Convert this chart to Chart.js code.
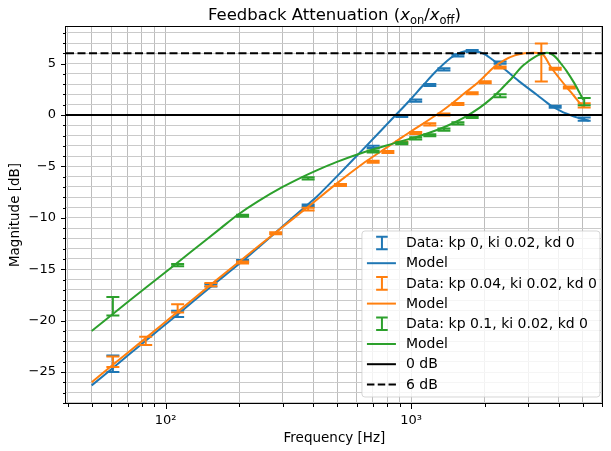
<!DOCTYPE html>
<html>
<head>
<meta charset="utf-8">
<script src="https://cdn.jsdelivr.net/npm/chart.js@4.4.1/dist/chart.umd.min.js"></script>
<style>
  html, body { margin: 0; padding: 0; background: #fff; }
  #wrap { width: 611px; height: 451px; }
</style>
</head>
<body>
<div id="wrap"><canvas id="atten_chart" width="611" height="451"></canvas></div>
<script>
// measured points (Hz, dB, +/- dB)
var blueFreq = [61, 112, 153, 206, 381, 701, 917, 1045, 1193, 1362, 1553, 1775, 2307, 3868, 5077];
var blueMag  = [-24.2, -19.35, -16.55, -14.2, -8.8, -3.1, -0.1, 1.4, 2.92, 4.44, 5.8, 6.22, 5.1, 0.81, -0.4];
var blueErr  = [0.8, 0.3, 0.12, 0.1, 0.1, 0.1, 0.1, 0.1, 0.1, 0.1, 0.1, 0.1, 0.1, 0.1, 0.15];

var orangeFreq = [61, 83, 112, 153, 206, 281, 381, 516, 701, 805, 917, 1045, 1193, 1362, 1553, 1775, 2006, 2307, 3396, 3868, 4417, 5077];
var orangeMag  = [-24.0, -21.97, -18.8, -16.5, -14.35, -11.5, -9.15, -6.81, -4.54, -3.6, -2.68, -1.75, -0.91, 0.06, 1.07, 2.11, 3.18, 4.62, 5.1, 4.5, 2.68, 0.94];
var orangeErr  = [0.5, 0.4, 0.4, 0.15, 0.1, 0.1, 0.13, 0.1, 0.1, 0.1, 0.1, 0.1, 0.1, 0.1, 0.1, 0.1, 0.1, 0.1, 1.85, 0.1, 0.1, 0.2];

var greenFreq = [61, 112, 206, 381, 701, 917, 1045, 1193, 1362, 1553, 1775, 2307, 5077];
var greenMag  = [-18.6, -14.6, -9.8, -6.16, -3.55, -2.74, -2.27, -1.97, -1.42, -0.81, -0.2, 1.88, 1.3];
var greenErr  = [0.9, 0.1, 0.1, 0.1, 0.1, 0.1, 0.1, 0.1, 0.1, 0.1, 0.1, 0.15, 0.35];

// model curves
var blueModelFreq = [50, 61, 83, 112, 153, 206, 280, 380, 413, 514, 652, 859, 985, 1123, 1276, 1450, 1560, 1660, 1750, 1850, 2000, 2170, 2450, 2750, 3265, 3700, 4100, 4450, 4770, 5300];
var blueModel     = [-26.3, -24.6, -21.95, -19.4, -16.7, -14.2, -11.45, -8.7, -7.95, -5.65, -3.1, -0.1, 1.39, 2.92, 4.35, 5.55, 6.0, 6.2, 6.25, 6.2, 5.9, 5.3, 4.3, 3.3, 1.95, 0.95, 0.35, 0.0, -0.25, -0.55];

var orangeModelFreq = [50, 61, 83, 112, 153, 206, 280, 380, 496, 652, 748, 851, 970, 1100, 1276, 1460, 1650, 1880, 2170, 2400, 2650, 2900, 3150, 3369, 3500, 3694, 4000, 4309, 4600, 4878, 5050];
var orangeModel     = [-26.0, -24.3, -21.7, -19.15, -16.5, -14.0, -11.45, -8.95, -6.7, -4.55, -3.6, -2.7, -1.8, -0.95, 0.05, 1.07, 2.11, 3.18, 4.62, 5.35, 5.8, 6.0, 6.05, 6.0, 5.7, 4.75, 3.65, 2.7, 1.9, 1.15, 0.75];

var greenModelFreq = [50, 61, 83, 106, 127, 168, 197, 237, 300, 360, 413, 496, 652, 851, 970, 1100, 1276, 1460, 1650, 1900, 2170, 2325, 2600, 2800, 3000, 3166, 3300, 3450, 3580, 3700, 3810, 3930, 4100, 4300, 4600, 4878, 5029];
var greenModel     = [-21.0, -19.35, -16.8, -14.8, -13.3, -11.0, -9.7, -8.42, -7.0, -6.04, -5.38, -4.58, -3.57, -2.76, -2.37, -1.99, -1.46, -0.87, -0.23, 0.69, 1.79, 2.5, 3.7, 4.6, 5.2, 5.58, 5.82, 5.98, 6.05, 5.98, 5.8, 5.5, 4.95, 4.3, 3.2, 2.1, 1.5];

var refLevels = [0, 6];

var xTickVals = [40, 50, 60, 70, 80, 90, 100, 200, 300, 400, 500, 600, 700, 800, 900, 1000, 2000, 3000, 4000, 5000, 6000];
var xMajorVals = [100, 1000];
var xMajorText = ['10\u00b2', '10\u00b3'];
var yTickVals = [-28, -27, -26, -25, -24, -23, -22, -21, -20, -19, -18, -17, -16, -15, -14, -13, -12, -11, -10, -9, -8, -7, -6, -5, -4, -3, -2, -1, 0, 1, 2, 3, 4, 5, 6, 7, 8];
var yLabelVals = [-25, -20, -15, -10, -5, 0, 5];

var legendLabels = ['Data: kp 0, ki 0.02, kd 0', 'Model', 'Data: kp 0.04, ki 0.02, kd 0', 'Model',
                    'Data: kp 0.1, ki 0.02, kd 0', 'Model', '0 dB', '6 dB'];

var X_MIN = 39.3, X_MAX = 6053;
var BLUE = '#1f77b4', ORANGE = '#ff7f0e', GREEN = '#2ca02c';
var FONT = "'DejaVu Sans'";

function pts(xs, ys) {
  return xs.map(function(x, i){ return {x: x, y: ys[i]}; });
}

function errSet(label, color, xs, ys, errs, order) {
  return { label: label, data: pts(xs, ys), errors: errs, borderColor: color, backgroundColor: color,
           showLine: false, pointRadius: 0, order: order };
}

function modelSet(color, xs, ys, order) {
  return { label: 'Model', data: pts(xs, ys), borderColor: color, borderWidth: 2, pointRadius: 0,
           fill: false, tension: 0.3, order: order };
}

var errorBarPlugin = {
  id: 'errorBars',
  afterDatasetDraw: function(chart, args) {
    var ds = chart.data.datasets[args.index];
    if (!ds.errors) return;
    var ctx = chart.ctx, xs = chart.scales.x, ys = chart.scales.y, cap = 6.5;
    var a = chart.chartArea;
    ctx.save();
    ctx.beginPath();
    ctx.rect(a.left, a.top, a.right - a.left, a.bottom - a.top);
    ctx.clip();
    ctx.strokeStyle = ds.borderColor;
    ctx.lineWidth = 2;
    ds.data.forEach(function(p, i) {
      var px = xs.getPixelForValue(p.x);
      var top = ys.getPixelForValue(p.y + ds.errors[i]);
      var bot = ys.getPixelForValue(p.y - ds.errors[i]);
      ctx.beginPath();
      ctx.moveTo(px, top); ctx.lineTo(px, bot);
      ctx.moveTo(px - cap, top); ctx.lineTo(px + cap, top);
      ctx.moveTo(px - cap, bot); ctx.lineTo(px + cap, bot);
      ctx.stroke();
    });
    ctx.restore();
  }
};

var framePlugin = {
  id: 'axesFrame',
  afterDraw: function(chart) {
    var ctx = chart.ctx, a = chart.chartArea, xs = chart.scales.x, ys = chart.scales.y;
    ctx.save();
    ctx.strokeStyle = '#000';
    ctx.lineWidth = 1;
    ctx.strokeRect(Math.round(a.left) - 0.5, Math.round(a.top) + 0.5,
                   Math.round(a.right - a.left), Math.round(a.bottom - a.top) - 1);
    ctx.beginPath();
    xTickVals.forEach(function(v) {
      var px = Math.round(xs.getPixelForValue(v)) + 0.5;
      var len = xMajorVals.indexOf(v) >= 0 ? 5 : 3;
      ctx.moveTo(px, a.bottom); ctx.lineTo(px, a.bottom + len);
    });
    yTickVals.forEach(function(v) {
      var py = Math.round(ys.getPixelForValue(v)) + 0.5;
      var len = yLabelVals.indexOf(v) >= 0 ? 5 : 3;
      ctx.moveTo(a.left, py); ctx.lineTo(a.left - len, py);
    });
    ctx.stroke();

    // axis titles
    ctx.fillStyle = '#000';
    ctx.font = '13.5px ' + FONT;
    ctx.textAlign = 'center';
    ctx.textBaseline = 'middle';
    ctx.fillText('Frequency [Hz]', (a.left + a.right) / 2, 438);
    ctx.translate(15, (a.top + a.bottom) / 2);
    ctx.rotate(-Math.PI / 2);
    ctx.fillText('Magnitude [dB]', 0, 0);
    ctx.restore();

    // title with math subscripts
    var runs = [
      {t: 'Feedback Attenuation (', f: '16.5px ' + FONT, dy: 0},
      {t: 'x', f: 'oblique 16.5px ' + FONT, dy: 0},
      {t: 'on', f: '11.5px ' + FONT, dy: 3.5},
      {t: '/', f: '16.5px ' + FONT, dy: 0},
      {t: 'x', f: 'oblique 16.5px ' + FONT, dy: 0},
      {t: 'off', f: '11.5px ' + FONT, dy: 3.5},
      {t: ')', f: '16.5px ' + FONT, dy: 0}
    ];
    ctx.save();
    ctx.fillStyle = '#000';
    ctx.textBaseline = 'alphabetic';
    ctx.textAlign = 'left';
    var total = 0;
    runs.forEach(function(r){ ctx.font = r.f; r.w = ctx.measureText(r.t).width; total += r.w; });
    var x = (a.left + a.right) / 2 - total / 2;
    runs.forEach(function(r){ ctx.font = r.f; ctx.fillText(r.t, x, 20 + r.dy); x += r.w; });
    ctx.restore();
  }
};

var legendPlugin = {
  id: 'mplLegend',
  afterDraw: function(chart) {
    var ctx = chart.ctx, a = chart.chartArea;
    var w = 238, h = 166, r = 3;
    var left = a.right - 3 - w, top = a.bottom - 7 - h;
    ctx.save();
    ctx.beginPath();
    ctx.moveTo(left + r, top);
    ctx.arcTo(left + w, top, left + w, top + h, r);
    ctx.arcTo(left + w, top + h, left, top + h, r);
    ctx.arcTo(left, top + h, left, top, r);
    ctx.arcTo(left, top, left + w, top, r);
    ctx.closePath();
    ctx.fillStyle = 'rgba(255,255,255,0.8)';
    ctx.fill();
    ctx.strokeStyle = 'rgba(204,204,204,0.8)';
    ctx.lineWidth = 1;
    ctx.stroke();

    var kinds = ['err', 'line', 'err', 'line', 'err', 'line', 'line', 'dash'];
    var colors = [BLUE, BLUE, ORANGE, ORANGE, GREEN, GREEN, '#000', '#000'];
    ctx.font = '14px ' + FONT;
    ctx.textBaseline = 'middle';
    ctx.textAlign = 'left';
    legendLabels.forEach(function(lab, i) {
      var cy = top + 12 + i * 20.2;
      ctx.strokeStyle = colors[i];
      ctx.lineWidth = 2;
      ctx.setLineDash(kinds[i] === 'dash' ? [7.5, 3.3] : []);
      ctx.beginPath();
      if (kinds[i] === 'err') {
        var cx = left + 20;
        ctx.moveTo(cx, cy - 6.3); ctx.lineTo(cx, cy + 6.3);
        ctx.moveTo(cx - 5.8, cy - 6.3); ctx.lineTo(cx + 5.8, cy - 6.3);
        ctx.moveTo(cx - 5.8, cy + 6.3); ctx.lineTo(cx + 5.8, cy + 6.3);
      } else {
        ctx.moveTo(left + 5, cy); ctx.lineTo(left + 34, cy);
      }
      ctx.stroke();
      ctx.fillStyle = '#000';
      ctx.fillText(lab, left + 44, cy + 0.5);
    });
    ctx.restore();
  }
};

var datasets = [
  errSet('Data: kp 0, ki 0.02, kd 0', BLUE, blueFreq, blueMag, blueErr, 8),
  modelSet(BLUE, blueModelFreq, blueModel, 7),
  errSet('Data: kp 0.04, ki 0.02, kd 0', ORANGE, orangeFreq, orangeMag, orangeErr, 6),
  modelSet(ORANGE, orangeModelFreq, orangeModel, 5),
  errSet('Data: kp 0.1, ki 0.02, kd 0', GREEN, greenFreq, greenMag, greenErr, 4),
  modelSet(GREEN, greenModelFreq, greenModel, 3),
  { label: '0 dB', data: pts([X_MIN, X_MAX], [refLevels[0], refLevels[0]]), borderColor: '#000',
    borderWidth: 2, pointRadius: 0, order: 2 },
  { label: '6 dB', data: pts([X_MIN, X_MAX], [refLevels[1], refLevels[1]]), borderColor: '#000',
    borderWidth: 2, borderDash: [8, 3.5], pointRadius: 0, order: 1 }
];

function start() {
  var ctx = document.getElementById("atten_chart").getContext("2d");
  var AttenChart = new Chart(ctx, {
    type: 'line',
    data: { datasets: datasets },
    options: {
      responsive: false,
      animation: false,
      devicePixelRatio: 1,
      layout: { padding: { top: 26, right: 1, left: 0, bottom: 0 } },
      plugins: { legend: { display: false }, tooltip: { enabled: false }, title: { display: false } },
      scales: {
        x: {
          type: 'logarithmic', min: X_MIN, max: X_MAX, bounds: 'data',
          afterBuildTicks: function(s) { s.ticks = xTickVals.map(function(v){ return {value: v}; }); },
          afterFit: function(s) { s.height = 47; },
          grid: { color: '#bdbdbd', lineWidth: 1, drawTicks: false },
          border: { display: false },
          ticks: {
            autoSkip: false, maxRotation: 0, padding: 9, color: '#000',
            font: { family: 'DejaVu Sans', size: 13 },
            callback: function(v) {
              var k = xMajorVals.indexOf(v);
              return k >= 0 ? xMajorText[k] : '';
            }
          }
        },
        y: {
          type: 'linear', min: -28.11, max: 8.66, bounds: 'data',
          afterBuildTicks: function(s) { s.ticks = yTickVals.map(function(v){ return {value: v}; }); },
          afterFit: function(s) { s.width = 66; },
          grid: { color: '#cacaca', lineWidth: 1, drawTicks: false },
          border: { display: false },
          ticks: {
            autoSkip: false, padding: 10, color: '#000',
            font: { family: 'DejaVu Sans', size: 13 },
            callback: function(v) {
              if (yLabelVals.indexOf(v) < 0) return '';
              return v < 0 ? '\u2212' + Math.abs(v) : String(v);
            }
          }
        }
      }
    },
    plugins: [errorBarPlugin, framePlugin, legendPlugin]
  });
}

window.onload = start;
</script>
</body>
</html>
